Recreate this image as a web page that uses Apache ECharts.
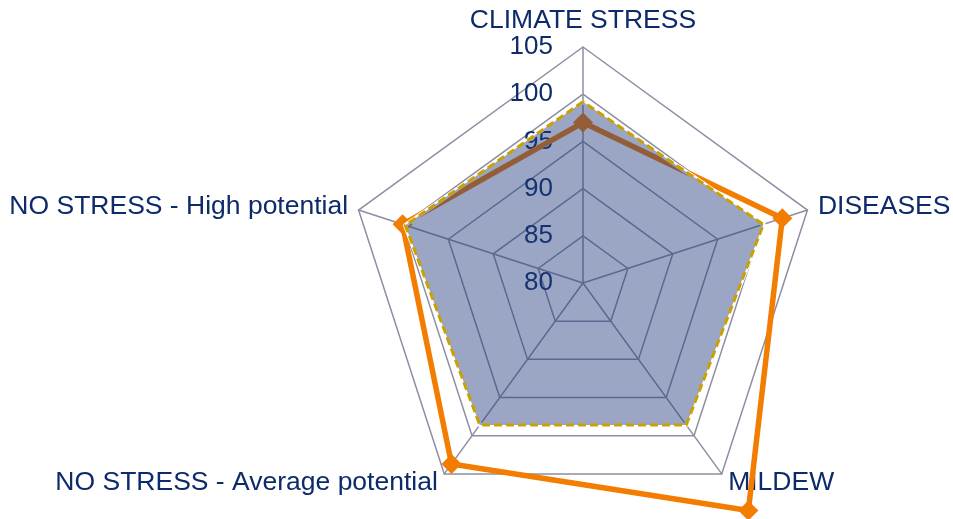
<!DOCTYPE html>
<html>
<head>
<meta charset="utf-8">
<script src="https://cdn.jsdelivr.net/npm/echarts@6/dist/echarts.min.js"></script>
<style>
  html, body { margin: 0; padding: 0; background: #fff; }
  #chart { width: 953px; height: 519px; }
</style>
</head>
<body>
<div id="chart"></div>
<script>
// axes in echarts order (counter-clockwise from the top)
var indicators = ['CLIMATE STRESS', 'NO STRESS - High potential', 'NO STRESS - Average potential', 'MILDEW', 'DISEASES']
var axisMin = 80
var axisMax = 105
// orange line (markers), same axis order
var orangeValues = [97.0, 100.1, 103.7, 109.8, 102.2]
// blue filled area with dashed gold border
var areaValues = [99.2, 99.8, 98.6, 98.6, 100.1]

var navy = '#0D2B6A'
var grid = '#8C8FA3'

var chart = echarts.init(document.getElementById('chart'))
chart.setOption({
    animation: false,
    radar: {
        center: [583, 283],
        radius: 236,
        startAngle: 90,
        splitNumber: 5,
        shape: 'polygon',
        nameGap: 11,
        axisName: {
            color: navy,
            fontSize: 26.5,
            fontFamily: 'Liberation Sans',
            padding: [3, 0, 0, 0]
        },
        splitLine: {
            lineStyle: { color: grid, width: 1.5 }
        },
        splitArea: { show: false },
        axisLine: {
            lineStyle: { color: grid, width: 1.5 }
        },
        axisTick: { show: false },
        axisLabel: {
            show: false,
            color: navy,
            fontSize: 26,
            fontFamily: 'Liberation Sans',
            margin: 30
        },
        indicator: indicators.map(function (name, i) {
            var ind = { name: name, min: axisMin, max: axisMax }
            if (i === 0) ind.axisLabel = { show: true }
            return ind
        })
    },
    series: [
        {
            type: 'radar',
            z: 2,
            symbol: 'diamond',
            symbolSize: 20,
            lineStyle: { color: '#F27D00', width: 5.5 },
            itemStyle: { color: '#F27D00' },
            data: [{ value: orangeValues }]
        },
        {
            type: 'radar',
            z: 3,
            symbol: 'none',
            lineStyle: { color: '#ffffff', width: 4.5 },
            areaStyle: { color: '#1F3A7A', opacity: 0.45 },
            data: [{ value: areaValues }]
        },
        {
            type: 'radar',
            z: 4,
            symbol: 'none',
            lineStyle: { color: '#C9A100', width: 3, type: [8, 4] },
            data: [{ value: areaValues }]
        }
    ]
})
</script>
</body>
</html>
